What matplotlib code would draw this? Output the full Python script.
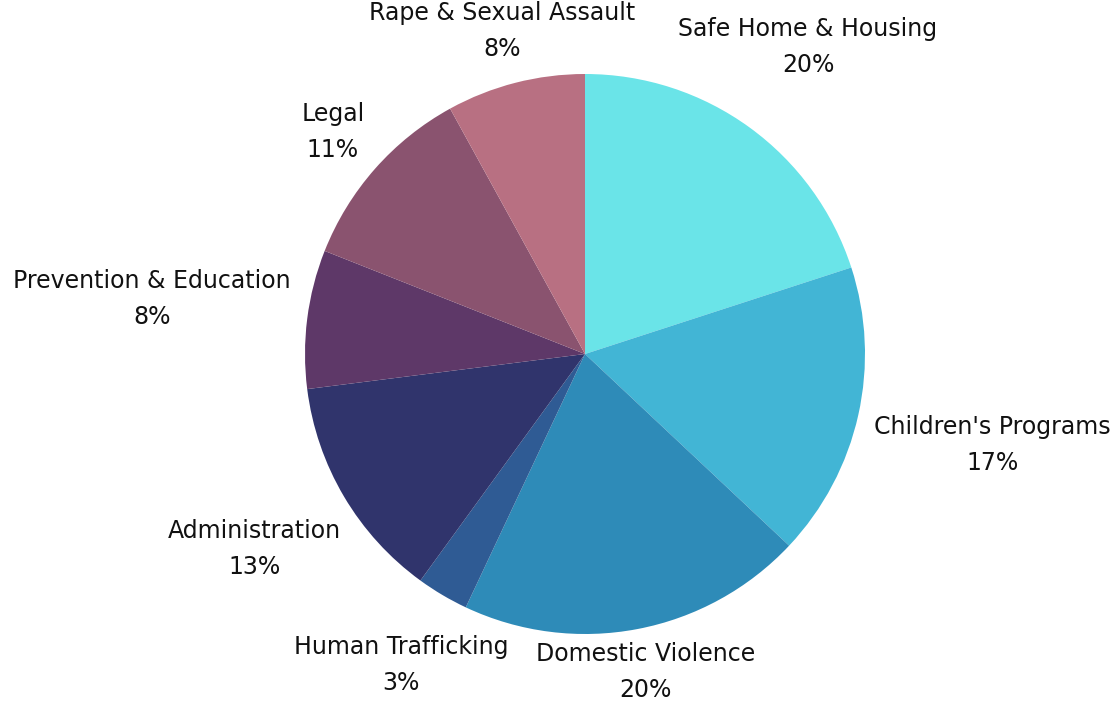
import numpy as np
import matplotlib
matplotlib.use("Agg")
import matplotlib.pyplot as plt

categories = ["Safe Home & Housing", "Children's Programs", "Domestic Violence",
              "Human Trafficking", "Administration", "Prevention & Education",
              "Legal", "Rape & Sexual Assault"]
values = [20, 17, 20, 3, 13, 8, 11, 8]
colors = ["#6ae4e8", "#42b5d5", "#2e8bb8", "#2f5b94", "#30346c", "#5e3868",
          "#8a536f", "#b87082"]
label_dist = [1.355, 1.49, 1.156, 1.29, 1.37, 1.56, 1.2, 1.19]

W, H = 1119, 703
cx, cy, R = 585, 349, 280  # pixel centre (from bottom) and radius

fig = plt.figure(figsize=(W / 100, H / 100), dpi=100)
ax = fig.add_axes([0, 0, 1, 1])
ax.axis("off")

wedges, _ = ax.pie(values, colors=colors, startangle=90, counterclock=False,
                   radius=1.0, wedgeprops=dict(linewidth=0))
ax.set_xlim(-cx / R, (W - cx) / R)
ax.set_ylim(-cy / R, (H - cy) / R)
ax.set_aspect("auto")

total = sum(values)
start = 90.0
for cat, v, d in zip(categories, values, label_dist):
    span = 360.0 * v / total
    mid = np.deg2rad(start - span / 2)
    start -= span
    ax.text(d * np.cos(mid), d * np.sin(mid), f"{cat}\n{v}%",
            ha="center", va="center", fontsize=17, family="DejaVu Sans",
            color="#111111", linespacing=1.65)

fig.savefig("out.png", dpi=100)
